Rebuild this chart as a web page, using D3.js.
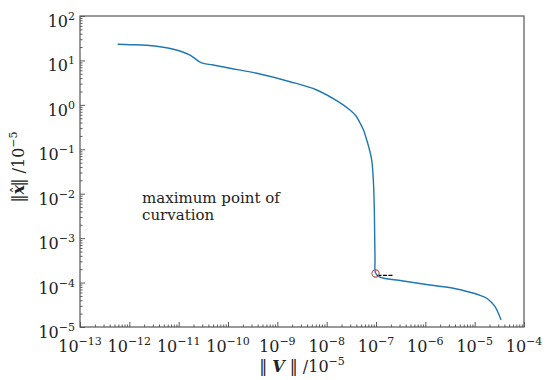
<!DOCTYPE html>
<html><head><meta charset="utf-8">
<script src="https://cdn.jsdelivr.net/npm/d3@7"></script>
<style>
body{margin:0;background:#fff;}
text{font-family:"DejaVu Serif",serif;fill:#222;}
</style></head>
<body><svg id="c" width="554" height="380"></svg>
<script>
// data
const vNorm = [5.8e-13, 1.03e-12, 2.25e-12, 7.8e-12, 1.7e-11, 2.84e-11, 5.0e-11, 1.1e-10, 3.82e-10, 1.81e-9, 6.28e-9, 1.72e-8, 2.97e-8, 3.94e-8, 4.74e-8, 5.58e-8, 6.49e-8, 7.4e-8, 8.18e-8, 8.83e-8, 9.25e-8, 9.55e-8, 9.77e-8, 1.2e-7, 2.63e-7, 1.24e-6, 3.69e-6, 8.05e-6, 1.29e-5, 1.75e-5, 2.15e-5, 2.59e-5, 2.98e-5, 3.42e-5];
const xNorm = [23.1, 22.6, 21.9, 17.8, 13.2, 8.9, 7.9, 6.65, 5.13, 3.32, 2.16, 1.18, 0.766, 0.561, 0.39, 0.272, 0.162, 0.0964, 0.0574, 0.0204, 0.0043, 3.2e-4, 1.64e-4, 1.32e-4, 1.14e-4, 8.8e-5, 7.43e-5, 6.04e-5, 5.17e-5, 4.43e-5, 3.65e-5, 2.86e-5, 2.12e-5, 1.44e-5];
const maxCurv = [9.8e-8, 1.6e-4];
const dashSeg = [[1.07e-7, 1.45e-4], [2.2e-7, 1.45e-4]];
const xTickExps = [-13, -12, -11, -10, -9, -8, -7, -6, -5, -4];
const yTickExps = [-5, -4, -3, -2, -1, 0, 1, 2];
const annotation = ["maximum point of", "curvation"];

const svg = d3.select("#c");
const L = 80, R = 524, T = 16, B = 327;
const x = d3.scaleLog().domain([1e-13, 1e-4]).range([L, R]);
const y = d3.scaleLog().domain([1e-5, 1e2]).range([B, T]);

const xMajor = xTickExps.map(e => Math.pow(10, e));
const yMajor = yTickExps.map(e => Math.pow(10, e));
const minors = exps => { const m = []; exps.slice(0, -1).forEach(e => { for (let k = 2; k < 10; k++) m.push(k * Math.pow(10, e)); }); return m; };

function styleAxis(g){ g.select(".domain").remove(); g.selectAll("line").attr("stroke", "#333").attr("stroke-width", 0.8); g.selectAll("text").remove(); }

svg.append("g").attr("transform", `translate(0,${B})`).call(d3.axisBottom(x).tickValues(xMajor).tickSize(-5).tickFormat("")).call(styleAxis);
svg.append("g").attr("transform", `translate(0,${B})`).call(d3.axisBottom(x).tickValues(minors(xTickExps)).tickSize(-2.5).tickFormat("")).call(styleAxis);
svg.append("g").attr("transform", `translate(${L},0)`).call(d3.axisLeft(y).tickValues(yMajor).tickSize(-5).tickFormat("")).call(styleAxis);
svg.append("g").attr("transform", `translate(${L},0)`).call(d3.axisLeft(y).tickValues(minors(yTickExps)).tickSize(-2.5).tickFormat("")).call(styleAxis);

// frame
svg.append("rect").attr("x", L).attr("y", T).attr("width", R - L).attr("height", B - T)
  .attr("fill", "none").attr("stroke", "#555").attr("stroke-width", 1.2);

// tick labels
xTickExps.forEach(e => {
  const t = svg.append("text").attr("x", x(Math.pow(10, e))).attr("y", B + 25).attr("text-anchor", "middle").attr("font-size", 16);
  t.append("tspan").text("10");
  t.append("tspan").attr("dy", -7).attr("font-size", 11).text("−" + Math.abs(e));
});
yTickExps.forEach(e => {
  const t = svg.append("text").attr("x", L - 5).attr("y", y(Math.pow(10, e)) + 11).attr("text-anchor", "end").attr("font-size", 16);
  t.append("tspan").text("10");
  t.append("tspan").attr("dy", -7).attr("font-size", 11).text(e < 0 ? "−" + Math.abs(e) : String(e));
});

// axis titles
const xt = svg.append("text").attr("x", 302).attr("y", 372).attr("text-anchor", "middle").attr("font-size", 16);
xt.append("tspan").text("‖ ");
xt.append("tspan").attr("font-weight", "bold").attr("font-style", "italic").text("V");
xt.append("tspan").text(" ‖  /10");
xt.append("tspan").attr("dy", -7).attr("font-size", 11).text("−5");

const yt = svg.append("text").attr("transform", "translate(24,167) rotate(-90)").attr("text-anchor", "middle").attr("font-size", 16);
yt.append("tspan").text("‖");
yt.append("tspan").attr("font-weight", "bold").attr("font-style", "italic").text("x");
yt.append("tspan").attr("dx", -8.5).attr("dy", -2).attr("font-size", 14).text("ˆ");
yt.append("tspan").attr("dx", 0).attr("dy", 2).text("‖ /10");
yt.append("tspan").attr("dy", -7).attr("font-size", 11).text("−5");

// curve
const pts = vNorm.map((v, i) => [v, xNorm[i]]);
svg.append("path").datum(pts)
  .attr("d", d3.line().x(d => x(d[0])).y(d => y(d[1])).curve(d3.curveCatmullRom.alpha(0.5)))
  .attr("fill", "none").attr("stroke", "#1f77b4").attr("stroke-width", 1.4).attr("stroke-linejoin", "round");

svg.append("path").datum(dashSeg)
  .attr("d", d3.line().x(d => x(d[0])).y(d => y(d[1])))
  .attr("stroke", "#000").attr("stroke-width", 1.2).attr("stroke-dasharray", "4,1.5");

svg.append("circle").attr("cx", x(maxCurv[0])).attr("cy", y(maxCurv[1])).attr("r", 3.6)
  .attr("fill", "none").attr("stroke", "#c0504d").attr("stroke-width", 1.1);

annotation.forEach((s, i) => svg.append("text").attr("x", 142).attr("y", 203 + i * 17).attr("font-size", 15).text(s));
</script></body></html>
